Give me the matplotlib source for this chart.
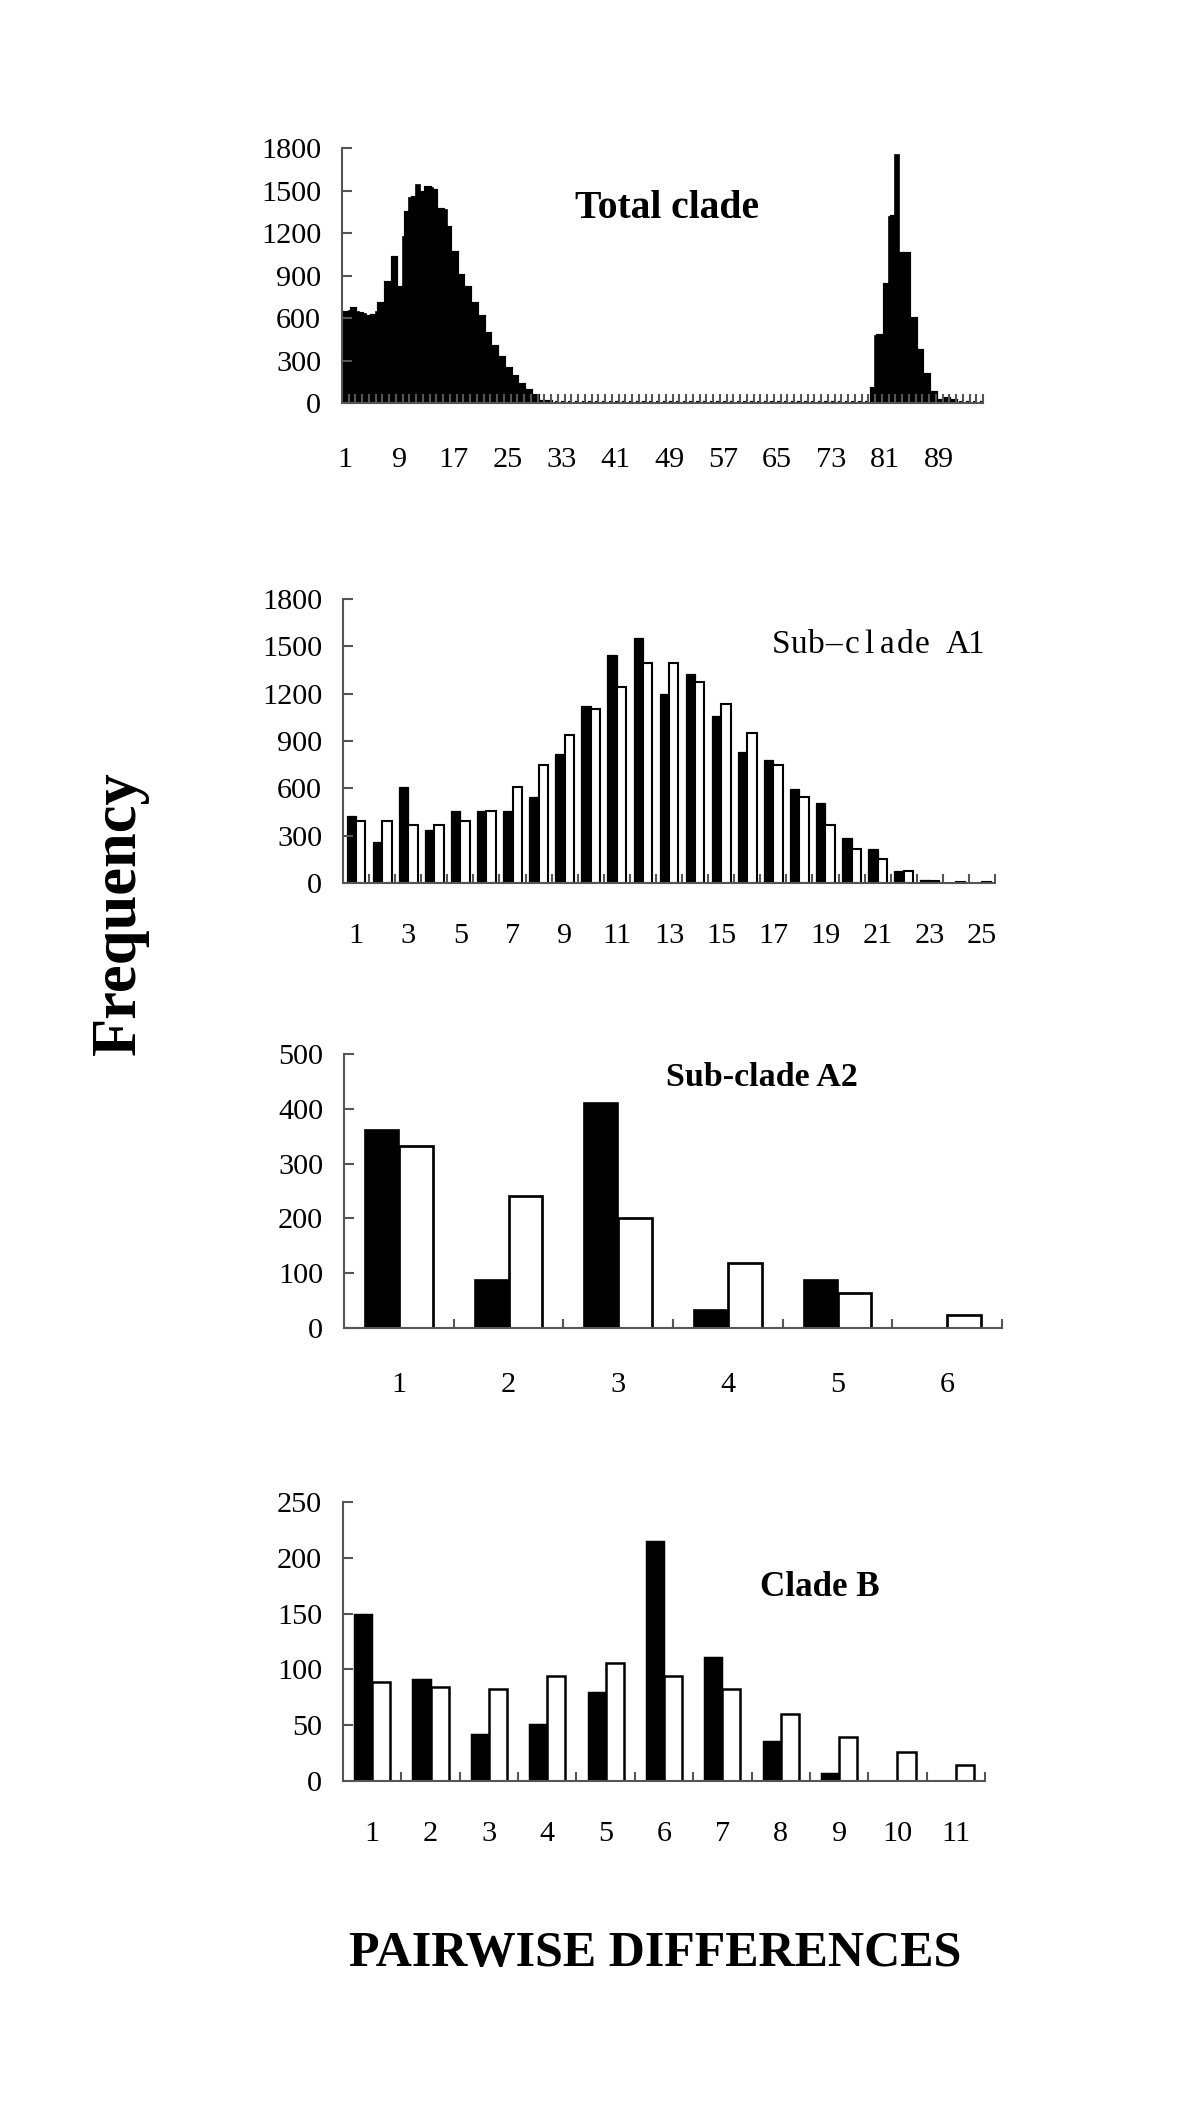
import numpy as np
import matplotlib
matplotlib.use("Agg")
import matplotlib.pyplot as plt

plt.rcParams['font.family'] = ['Liberation Serif', 'DejaVu Serif']

# Total clade: pairwise differences 1..95 (observed = black, expected = white)
total_obs = ([600, 650, 640, 625, 510, 640, 569, 853, 810, 1173,
              1446, 1540, 1192, 1517, 1050, 1363, 758, 890, 526, 700,
              206, 490, 10, 0, 237, 0, 130, 0, 0, 0, 0]
             + [0] * 47
             + [0, 470, 470, 1310, 1750, 1050, 590, 370, 200, 70, 12, 30, 12]
             + [0] * 4)
total_exp = ([635, 664, 630, 604, 616, 700, 850, 1024, 810, 1339,
              1446, 1481, 1517, 1493, 1363, 1232, 1062, 900, 810, 700,
              604, 490, 396, 320, 237, 185, 130, 88, 52, 10, 5]
             + [0] * 47
             + [100, 470, 830, 1310, 1050, 1050, 590, 370, 200, 70, 12, 30, 12]
             + [0] * 4)

# Sub-clade A1: 1..25
a1_obs = [427, 258, 611, 338, 459, 459, 459, 548, 816, 1123,
          1445, 1550, 1195, 1323, 1056, 830, 778, 594, 507, 288,
          218, 79, 20, 0, 0]
a1_exp = [393, 393, 368, 368, 393, 459, 607, 749, 935, 1104,
          1244, 1396, 1396, 1272, 1135, 949, 750, 545, 368, 216,
          152, 79, 10, 8, 8]

# Sub-clade A2: 1..6
a2_obs = [362, 88, 410, 33, 88, 0]
a2_exp = [333, 240, 200, 118, 63, 23]

# Clade B: 1..11
b_obs = [150, 91, 42, 51, 80, 215, 111, 36, 7, 0, 0]
b_exp = [89, 84, 82, 94, 106, 94, 82, 60, 39, 26, 14]

W, H = 1200, 2105
fig = plt.figure(figsize=(W / 150, H / 150), dpi=150)

AXIS_COLOR = '#555555'


def px_rect(left, right, top, bottom):
    return [left / W, 1 - bottom / H, (right - left) / W, (bottom - top) / H]


# Rysowanie jednego panelu z parą słupków (obserwowane / oczekiwane)
def draw_panel(rect, obs, exp, ymax, ystep, label_step, bar_w, edge_w, xpad, black_edge):
    ax = fig.add_axes(rect)
    n = len(obs)
    x = np.arange(1, n + 1)
    ax.bar(x - bar_w / 2, obs, bar_w, color='black', edgecolor='black', linewidth=black_edge)
    ax.bar(x + bar_w / 2, exp, bar_w, color='white', edgecolor='black', linewidth=edge_w)
    ax.set_xlim(0.5, n + 0.5)
    ax.set_ylim(0, ymax)

    for side in ['top', 'right']:
        ax.spines[side].set_visible(False)
    for side in ['left', 'bottom']:
        ax.spines[side].set_color(AXIS_COLOR)
        ax.spines[side].set_linewidth(1.0)

    ax.set_yticks(np.arange(0, ymax + 1, ystep))
    ax.tick_params(axis='y', direction='in', length=5, width=1.0, color=AXIS_COLOR,
                   pad=10, labelsize=14.5)
    centers = x[::label_step]
    ax.set_xticks(centers)
    ax.set_xticklabels([str(c) for c in centers])
    ax.set_xticks(np.arange(1.5, n + 1, 1), minor=True)
    ax.tick_params(axis='x', which='major', length=0, pad=xpad, labelsize=14.5)
    ax.tick_params(axis='x', which='minor', direction='in', length=4.5, width=1.0,
                   color=AXIS_COLOR)
    return ax


draw_panel(px_rect(342, 983, 148, 403), total_obs, total_exp, 1800, 300, 8, 0.5, 2.0, 21, 0.8)
draw_panel(px_rect(343, 995, 599, 883), a1_obs, a1_exp, 1800, 300, 2, 0.36, 1.0, 19, 0.6)
draw_panel(px_rect(344, 1002, 1054, 1328), a2_obs, a2_exp, 500, 100, 1, 0.31, 1.3, 21, 0.8)
draw_panel(px_rect(343, 985, 1502, 1781), b_obs, b_exp, 250, 50, 1, 0.31, 1.2, 19, 0.7)

fig.text(667 / W, 1 - 208 / H, "Total clade", fontsize=19, fontweight='bold',
         ha='center', va='center')

# "Sub-clade A1" z szerokim, stałym odstępem między znakami
a1_title = "Sub–clade A1"
pitch = 17.7
for i, ch in enumerate(a1_title):
    fig.text((772 + (i + 0.5) * pitch) / W, 1 - 653 / H, ch, fontsize=16,
             ha='center', va='baseline')

fig.text(762 / W, 1 - 1077 / H, "Sub-clade A2", fontsize=16.3, fontweight='bold',
         ha='center', va='center')
fig.text(820 / W, 1 - 1588 / H, "Clade B", fontsize=16.8, fontweight='bold',
         ha='center', va='center')

fig.text(120 / W, 1 - 913 / H, "Frequency", fontsize=30, fontweight='bold',
         rotation=90, ha='center', va='center')
fig.text(655 / W, 1 - 1954 / H, "PAIRWISE DIFFERENCES", fontsize=24, fontweight='bold',
         ha='center', va='center')

fig.savefig('out.png', dpi=150)
